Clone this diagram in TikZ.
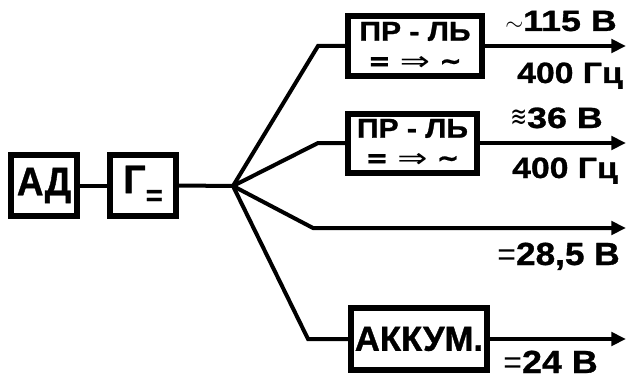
\documentclass[tikz,border=0pt]{standalone}
\usepackage{fontspec}
\setmainfont{Liberation Sans}[BoldFeatures={FakeBold=1}]
\newfontfamily\symfont{DejaVu Sans}[BoldFeatures={FakeBold=0.6}]
\usetikzlibrary{arrows.meta,calc}
\tikzset{
  >={Triangle[length=11pt,width=10pt]},
  blk/.style={draw=black,line width=4.5pt,fill=white,inner sep=0pt,align=center},
  wire/.style={draw=black,line width=3pt},
  flow/.style={draw=black,line width=3pt,->},
  vbig/.style={font=\fontsize{30}{32}\selectfont\bfseries},
  vacc/.style={font=\fontsize{26}{28}\selectfont\bfseries},
  vmid/.style={font=\fontsize{20.5}{22}\selectfont\bfseries},
  vlbl/.style={font=\fontsize{22}{24}\selectfont\bfseries,inner sep=0pt},
  vlblb/.style={font=\fontsize{24}{26}\selectfont\bfseries,inner sep=0pt}
}
\newcommand{\widen}[2][1.2]{\scalebox{#1}[1]{#2}}
\newcommand{\convline}{{\symfont\fontsize{20}{20}\selectfont =\hspace{7pt}{\mdseries\scalebox{1.35}[1]{⇒}}\hspace{7pt}∼}}

\begin{document}
\begin{tikzpicture}[x=0.75pt,y=-0.75pt]
  \useasboundingbox (0,0) rectangle (627,378);

  \node[blk,vbig,minimum width=49.5pt,minimum height=45.75pt] (ad) at (44,185.5) {\scalebox{0.92}[1]{АД}};
  \node[blk,vbig,minimum width=49.5pt,minimum height=45.75pt] (gen) at (143,185.5)
    {Г\raisebox{-9pt}{\fontsize{22}{22}\selectfont =}};

  \node[blk,vmid,minimum width=100.5pt,minimum height=44.25pt] (pr1) at (415,46)
    {\widen[1.1]{ПР - ЛЬ}\\\convline};
  \node[blk,vmid,minimum width=96.75pt,minimum height=44.25pt] (pr2) at (412.5,143)
    {\widen[1.1]{ПР - ЛЬ}\\\convline};
  \node[blk,vacc,minimum width=102pt,minimum height=46.5pt] (akk) at (419,339) {АККУМ.};

  \coordinate (hub) at (233,186);
  \coordinate (k1) at (318,46);
  \coordinate (k2) at (318,143);
  \coordinate (k3) at (313,228);
  \coordinate (k4) at (308,339);
  \coordinate (o1) at (626,46);
  \coordinate (o2) at (626,143);
  \coordinate (o3) at (626,228);
  \coordinate (o4) at (626,339);

  \draw[wire] (ad.east) -- (gen.west);
  \draw[wire] (gen.east) -- (hub);
  \draw[wire] (hub) -- (k1) -- (pr1.west);
  \draw[wire] (hub) -- (k2) -- (pr2.west);
  \draw[wire] (hub) -- (k4) -- (akk.west);
  \draw[flow] (hub) -- (k3) -- (o3);
  \draw[flow] (pr1.east) -- (o1);
  \draw[flow] (pr2.east) -- (o2);
  \draw[flow] (akk.east) -- (o4);

  \node[vlbl,anchor=base east] (v1) at (617,31)
    {{\mdseries\fontsize{18}{18}\selectfont$\sim$}\widen[1.22]{115 В}};
  \node[vlbl,anchor=base east] (f1) at (623,83) {\widen[1.15]{400 Гц}};
  \node[vlbl,anchor=base east] (v2) at (603,128)
    {\raisebox{1pt}{\scalebox{1}[1.4]{\symfont\mdseries\fontsize{15}{15}\selectfont ≋}}\widen[1.22]{36 В}};
  \node[vlbl,anchor=base east] (f2) at (618,178) {\widen[1.15]{400 Гц}};
  \node[vlblb,anchor=base east] (v3) at (620,265)
    {{\mdseries =}\widen[1.1]{28,5 В}};
  \node[vlblb,anchor=base east] (v4) at (598,373)
    {{\mdseries =}\widen[1.12]{24 В}};
\end{tikzpicture}
\end{document}
